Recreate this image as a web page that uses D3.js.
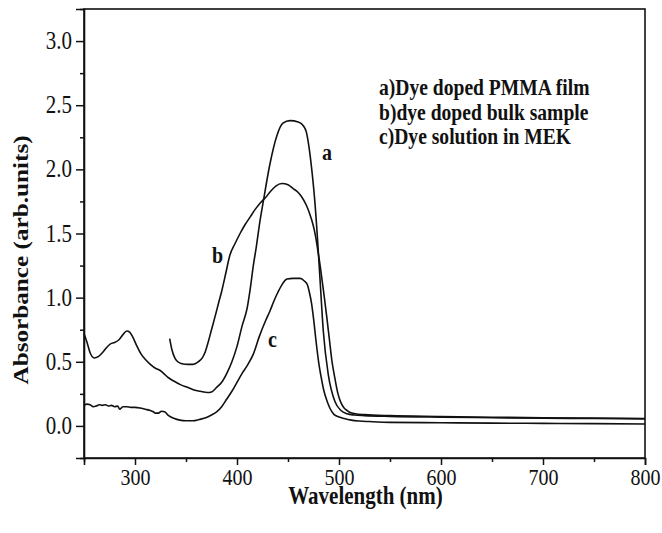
<!DOCTYPE html>
<html>
<head>
<meta charset="utf-8">
<script src="https://cdn.jsdelivr.net/npm/d3@7"></script>
<style>
  html, body { margin: 0; padding: 0; background: #fff; }
  svg { display: block; }
  text { font-family: "Liberation Serif", "Times New Roman", serif; fill: #111; }
</style>
</head>
<body>
<svg id="chart" width="662" height="533"></svg>
<script>
// ---------- data ----------
// a) Dye doped PMMA film
const filmNm = [250, 253, 256, 260, 264, 268, 272, 276, 280, 284, 288, 292, 295, 298, 302, 306, 310, 315, 320, 325, 328, 332, 338, 345, 352, 358, 364, 371, 375, 380, 385, 390, 395, 400, 405, 410, 413, 416, 419, 422, 426, 432, 439, 445, 452, 460, 465, 468, 471, 473, 476, 479, 481.5, 484.6, 489.5, 496, 502, 508, 515, 525, 550, 600, 650, 700, 750, 800];
const filmAbs = [0.72, 0.65, 0.57, 0.53, 0.54, 0.57, 0.61, 0.64, 0.65, 0.67, 0.71, 0.74, 0.73, 0.69, 0.62, 0.56, 0.52, 0.48, 0.45, 0.43, 0.41, 0.38, 0.35, 0.32, 0.30, 0.28, 0.27, 0.26, 0.265, 0.30, 0.34, 0.41, 0.50, 0.62, 0.78, 0.92, 1.07, 1.25, 1.40, 1.57, 1.76, 2.03, 2.26, 2.36, 2.38, 2.37, 2.34, 2.29, 2.15, 2.02, 1.78, 1.45, 1.13, 0.74, 0.40, 0.19, 0.12, 0.095, 0.085, 0.08, 0.074, 0.068, 0.064, 0.06, 0.058, 0.055];

// b) dye doped bulk sample
const bulkNm = [334, 336, 339, 342, 346, 352, 357, 362, 366, 369, 372, 375, 378.4, 382, 385, 389, 393, 398, 403, 408, 413, 418, 423, 428, 433, 438, 444, 450, 455, 460, 463, 468, 471, 474.5, 477, 479, 481.5, 483, 485.5, 488, 490.5, 493, 496, 499, 502, 505, 508, 511, 516, 525, 550, 600, 650, 700, 750, 800];
const bulkAbs = [0.68, 0.60, 0.53, 0.50, 0.485, 0.48, 0.48, 0.50, 0.53, 0.58, 0.66, 0.75, 0.85, 0.96, 1.05, 1.19, 1.33, 1.42, 1.50, 1.57, 1.63, 1.69, 1.74, 1.78, 1.83, 1.87, 1.89, 1.88, 1.85, 1.82, 1.79, 1.72, 1.66, 1.57, 1.48, 1.38, 1.25, 1.16, 1.01, 0.85, 0.68, 0.51, 0.37, 0.25, 0.18, 0.14, 0.12, 0.104, 0.095, 0.088, 0.08, 0.074, 0.068, 0.064, 0.061, 0.058];

// c) Dye solution in MEK
const solNm = [250, 253, 256, 259, 262, 265, 268, 271, 274, 277, 280, 283, 285, 288, 292, 296, 300, 305, 310, 315, 318, 320, 323, 326, 329, 333, 338, 344, 350, 357, 363, 370, 375, 380, 385, 390, 395, 400, 405, 410, 416, 422, 428, 432, 436, 440, 444, 449, 455, 462, 466, 469, 471, 473, 475, 477.5, 480, 482.5, 485, 488, 491, 495, 500, 505, 512, 520, 530, 550, 600, 650, 700, 750, 800];
const solAbs = [0.16, 0.17, 0.165, 0.15, 0.155, 0.165, 0.16, 0.165, 0.155, 0.16, 0.15, 0.155, 0.13, 0.15, 0.15, 0.145, 0.145, 0.14, 0.13, 0.12, 0.11, 0.10, 0.10, 0.115, 0.11, 0.08, 0.06, 0.045, 0.04, 0.04, 0.05, 0.065, 0.085, 0.11, 0.15, 0.21, 0.27, 0.34, 0.41, 0.47, 0.56, 0.70, 0.82, 0.89, 0.97, 1.04, 1.10, 1.145, 1.15, 1.15, 1.13, 1.10, 1.04, 0.96, 0.84, 0.66, 0.50, 0.38, 0.28, 0.20, 0.14, 0.09, 0.07, 0.058, 0.045, 0.038, 0.034, 0.028, 0.025, 0.022, 0.02, 0.018, 0.015];

const xMajorTicks = [300, 400, 500, 600, 700, 800];
const xMinorTicks = [250, 350, 450, 550, 650, 750];
const yMajorTicks = [0.0, 0.5, 1.0, 1.5, 2.0, 2.5, 3.0];
const yMinorTicks = [-0.25, 0.25, 0.75, 1.25, 1.75, 2.25, 2.75, 3.25];

const legendLines = ["a)Dye doped PMMA film", "b)dye doped bulk sample", "c)Dye solution in MEK"];
const curveLabels = ["a", "b", "c"];
const xTitle = "Wavelength (nm)";
const yTitle = "Absorbance (arb.units)";

// ---------- layout ----------
const svg = d3.select("#chart");
const L = 84, R = 645, T = 9, B = 458;
const x = d3.scaleLinear().domain([250, 800]).range([L, R]);
const y = d3.scaleLinear().domain([-0.25, 3.25]).range([B, T]);
const STRETCH = 1.2;

// frame
svg.append("rect")
  .attr("x", L).attr("y", T).attr("width", R - L).attr("height", B - T)
  .attr("fill", "none").attr("stroke", "#111").attr("stroke-width", 1.6);

// curves
const line = d3.line()
  .x(d => x(d[0])).y(d => y(d[1]))
  .curve(d3.curveMonotoneX);
const series = [
  d3.zip(filmNm, filmAbs),
  d3.zip(bulkNm, bulkAbs),
  d3.zip(solNm, solAbs)
];
svg.append("g").selectAll("path").data(series).join("path")
  .attr("d", line)
  .attr("fill", "none").attr("stroke", "#111")
  .attr("stroke-width", 1.6).attr("stroke-linejoin", "round");

// axes
function styleAxis(g) {
  g.select(".domain").attr("stroke", "#111").attr("stroke-width", 1.6);
  g.selectAll(".tick line").attr("stroke", "#111").attr("stroke-width", 1.5);
}
const xAxis = svg.append("g").attr("transform", `translate(0,${B})`)
  .call(d3.axisBottom(x).tickValues(xMajorTicks).tickSize(7).tickPadding(2).tickFormat(d3.format("d")));
xAxis.call(styleAxis);
xAxis.selectAll("text")
  .attr("font-size", 20).attr("y", 8).attr("dy", "0.71em")
  .attr("transform", `scale(1,${STRETCH})`)
  .style("font-family", "'Liberation Serif', serif").attr("fill", "#111");
const xMinor = svg.append("g").attr("transform", `translate(0,${B})`)
  .call(d3.axisBottom(x).tickValues(xMinorTicks).tickSize(4).tickFormat(""));
xMinor.call(styleAxis);
xMinor.select(".domain").remove();

const yAxis = svg.append("g").attr("transform", `translate(${L},0)`)
  .call(d3.axisLeft(y).tickValues(yMajorTicks).tickSize(8).tickPadding(4).tickFormat(d3.format(".1f")));
yAxis.call(styleAxis);
yAxis.selectAll("text")
  .attr("font-size", 21)
  .attr("transform", `scale(1,${STRETCH})`)
  .attr("dy", "0.3em")
  .style("font-family", "'Liberation Serif', serif").attr("fill", "#111");
const yMinor = svg.append("g").attr("transform", `translate(${L},0)`)
  .call(d3.axisLeft(y).tickValues(yMinorTicks).tickSize(4).tickFormat(""));
yMinor.call(styleAxis);
yMinor.select(".domain").remove();

// axis titles
svg.append("text")
  .attr("transform", `translate(${(L + R) / 2 + 1},504) scale(1,${STRETCH})`)
  .attr("text-anchor", "middle").attr("font-size", 21).attr("font-weight", "bold")
  .text(xTitle);
svg.append("text")
  .attr("transform", `translate(28,260) rotate(-90) scale(${STRETCH},1)`)
  .attr("text-anchor", "middle").attr("font-size", 21).attr("font-weight", "bold")
  .text(yTitle);

// legend text
const legendBase = [95, 119.5, 144];
svg.append("g").selectAll("text").data(legendLines).join("text")
  .attr("transform", (d, i) => `translate(379,${legendBase[i]}) scale(1,${STRETCH})`)
  .attr("font-size", 19.6).attr("font-weight", "bold")
  .text(d => d);

// curve labels
const labelPos = [[322, 160], [212, 263], [268, 347]];
svg.append("g").selectAll("text").data(curveLabels).join("text")
  .attr("transform", (d, i) => `translate(${labelPos[i][0]},${labelPos[i][1]}) scale(1,${STRETCH})`)
  .attr("font-size", 20).attr("font-weight", "bold")
  .text(d => d);
</script>
</body>
</html>
